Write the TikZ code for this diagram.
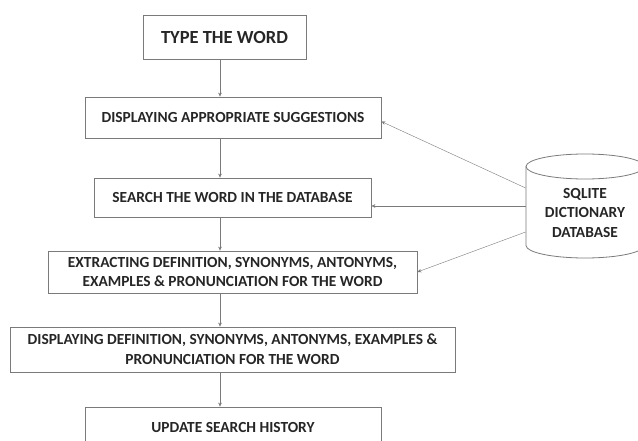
\documentclass[tikz,border=0pt]{standalone}
\usepackage{fontspec}
\setmainfont{Carlito}
\usetikzlibrary{arrows.meta}
\definecolor{txt}{HTML}{262626}
\definecolor{edge}{HTML}{7A7A7A}
\begin{document}
\begin{tikzpicture}[x=1pt,y=-1pt,
  box/.style={draw=edge,line width=0.8pt,text=txt,align=center,inner sep=0pt,
    font=\fontsize{15.4}{19.8}\selectfont\bfseries},
  >={Stealth[length=4pt,width=3.5pt]}]
\useasboundingbox (0,0) rectangle (638,441);
\coordinate (ax) at (220,0);

\node (S1)[box,minimum width=163pt,minimum height=44pt,font=\fontsize{18.5}{22}\selectfont\bfseries] at (224.5,37) {TYPE THE WORD};
\node (S2)[box,minimum width=296pt,minimum height=41pt] at (233,117.5) {DISPLAYING APPROPRIATE SUGGESTIONS};
\node (S3)[box,minimum width=277pt,minimum height=39pt] at (232.5,197.5) {SEARCH THE WORD IN THE DATABASE};
\node (S4)[box,minimum width=369pt,minimum height=42pt] at (232.5,272) {EXTRACTING DEFINITION, SYNONYMS, ANTONYMS,\\ EXAMPLES \& PRONUNCIATION FOR THE WORD};
\node (S5)[box,minimum width=445pt,minimum height=45pt] at (232.5,349.5) {DISPLAYING DEFINITION, SYNONYMS, ANTONYMS, EXAMPLES \&\\ PRONUNCIATION FOR THE WORD};
\node (S6)[box,minimum width=296pt,minimum height=41pt] at (233,427.5) {UPDATE SEARCH HISTORY};

% database drum
\node (DB)[box,draw=none,minimum width=118pt,minimum height=70pt] at (585,213) {SQLITE\\ DICTIONARY\\ DATABASE};
\draw[edge,line width=0.8pt] (585,166.5) ellipse [x radius=59,y radius=12.5];
\draw[edge,line width=0.8pt] (526,166.5)--(526,245.5) arc[start angle=180,end angle=0,x radius=59,y radius=12.5]--(644,166.5);

\draw[->,edge] (S1.south -| ax)--(S2.north -| ax);
\draw[->,edge] (S2.south -| ax)--(S3.north -| ax);
\draw[->,edge] (S3.south -| ax)--(S4.north -| ax);
\draw[->,edge] (S4.south -| ax)--(S5.north -| ax);
\draw[->,edge] (S5.south -| ax)--(S6.north -| ax);

\draw[->,edge] ([yshift=25pt]DB.west)--([yshift=-4pt]S2.east);
\draw[->,edge] ([yshift=7pt]DB.west)--([yshift=7pt]DB.west -| S3.east);
\draw[->,edge] ([yshift=-19pt]DB.west)--(S4.east);

\end{tikzpicture}
\end{document}
